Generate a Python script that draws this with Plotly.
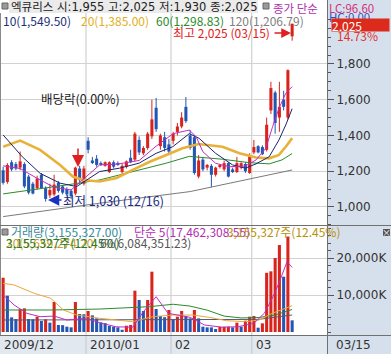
import plotly.graph_objects as go

W, H = 391, 354
def px(x): return x / W
def py(y): return 1 - y / H

# ---------------- data ----------------
idx = list(range(69))
opens  = [1205,1140,1250,1240,1220,1240,1170,1130,1105,1180,1105,1065,1070,1135,1115,1100,1090,1075,1215,1130,
          1370,1260,1270,1245,1230,1195,1250,1245,1195,1225,1275,1265,1375,1300,1330,1395,1555,1340,1390,1350,
          1370,1420,1450,1560,1400,1390,1170,1265,1220,1230,1180,1225,1210,1245,1210,1195,1220,1240,1190,
          1305,1340,1335,1320,1540,1640,1500,1600,1500,1955]
highs  = [1225,1245,1262,1252,1310,1250,1180,1140,1175,1190,1115,1130,1180,1145,1120,1110,1100,1225,1230,1230,
          1390,1280,1290,1255,1255,1255,1260,1255,1240,1260,1320,1420,1395,1340,1420,1600,1610,1410,1420,1380,
          1420,1470,1530,1615,1430,1400,1290,1275,1240,1240,1225,1240,1260,1250,1220,1280,1250,1250,1300,
          1375,1345,1345,1500,1700,1650,1700,1650,1770,2025]
lows   = [1125,1130,1200,1205,1205,1105,1070,1070,1095,1100,1030,1050,1060,1080,1070,1060,1045,1065,1130,1120,
          1300,1240,1225,1230,1225,1190,1215,1230,1185,1215,1245,1255,1290,1290,1320,1380,1420,1320,1310,1290,
          1350,1400,1440,1470,1320,1180,1160,1200,1205,1110,1170,1215,1200,1165,1190,1190,1210,1190,1185,
          1295,1300,1290,1310,1520,1410,1420,1540,1490,1930]
closes = [1135,1235,1210,1215,1255,1115,1080,1075,1160,1105,1045,1095,1125,1090,1080,1070,1060,1220,1150,1215,
          1320,1250,1235,1238,1250,1250,1225,1235,1230,1255,1250,1410,1305,1330,1410,1490,1435,1400,1330,1310,
          1410,1450,1500,1480,1330,1190,1260,1210,1235,1180,1220,1230,1245,1170,1195,1245,1245,1200,1290,
          1335,1305,1295,1460,1665,1470,1560,1560,1765,2025]
volume_k = [14670,9800,3960,3510,6130,6400,3510,3450,4140,2970,3430,2520,8110,1890,1850,1440,1260,8110,4860,4800,
            5680,4500,3690,2600,2400,1620,1440,1260,600,1700,1900,11170,8650,5680,8650,16300,6220,4300,4000,5950,
            3430,4140,5680,4320,3690,5950,3690,1440,1260,1250,810,1400,1420,1440,1260,2520,1440,3060,4140,
            4320,1170,2340,16000,16400,20000,23500,14950,25800,3155]

# moving averages (x position in candle units, value)
ma5_x  = [0,4,8,12,16,19.6,22.7,27,32,36,40,43.8,45.4,47,50,53.2,57,59.5,61.8,63.4,64.9,66.5,68]
ma5_v  = [1230,1215,1160,1110,1095,1170,1235,1240,1260,1340,1410,1430,1393,1309,1244,1225,1229,1263,1328,1449,1552,1636,1673]
ma10_x = [0,4.5,8.7,13.4,17.3,19.6,22.7,27.4,32,36,39.9,43.8,46.1,50,54,57,59.5,62.6,64.9,66.5,68]
ma10_v = [1403,1281,1188,1133,1114,1151,1198,1217,1245,1300,1337,1410,1384,1300,1235,1217,1241,1281,1375,1459,1549.5]
ma20_x = [0,4,8.7,13.4,16.4,18.8,22.7,26.7,30.5,34.5,38.4,42.2,46,51.6,55.6,59.5,62.6,64.9,66.5,68]
ma20_v = [1337,1371,1319,1235,1170,1151,1142,1162,1207,1253,1291,1328,1352,1337,1300,1277,1272,1291,1337,1385]
ma60_x = [0,7.1,14.9,22.7,30.5,38.4,43.8,51.6,57.8,62.6,65.6,68]
ma60_v = [1073,1095,1123,1151,1198,1245,1283,1267,1248,1241,1263,1298.83]
ma120_x = [0,22.7,44,68]
ma120_v = [946,1021,1086,1206.79]

vma5_x  = [0,2.6,5.6,8.7,12,15,19.6,22.7,26.6,30.5,33,36,38.8,44,47.4,51.5,55.3,59,61.5,63.5,64.9,66.8,68]
vma5_v  = [10000,7300,5050,4140,4300,3240,3700,2500,1400,1300,5490,9540,5050,3970,1890,1300,1430,2350,5140,9540,13250,19000,17462]
vma20_x = [0,2.6,7.3,11.2,14.2,17.3,22.7,30.5,35.2,40,44.6,48.5,52.5,57,60.2,63.3,68]
vma20_v = [13160,12700,10460,9110,5950,4590,3700,2790,4140,4590,4590,3970,3060,2790,3240,5050,7100]
vma60_x = [0,11.2,22.7,34.4,40,44,48,52,56,60,64,68]
vma60_v = [5950,5950,6200,6840,7500,7000,5900,4300,3800,3900,4600,6084]
vma120_x = [0,25,50,60,68]
vma120_v = [3240,3240,3300,3400,4600]

price_ticks = [1000,1200,1400,1600,1800]
vol_ticks = [10000,20000]
vol_tick_text = ["10,000K","20,000K"]
month_lines = [19.5,39.5,58.5]

RED = "#d9231d"
BLUE = "#2456b4"

# ---------------- figure ----------------
fig = go.Figure()

up = [c >= o for o, c in zip(opens, closes)]
body_base = [min(o, c) for o, c in zip(opens, closes)]
body_h = [max(abs(c - o), 4) for o, c in zip(opens, closes)]
body_col = [RED if u else BLUE for u in up]

for flag, col in ((True, RED), (False, BLUE)):
    wx, wy = [], []
    for i in idx:
        if up[i] == flag:
            wx += [i, i, None]
            wy += [lows[i], highs[i], None]
    fig.add_trace(go.Scatter(x=wx, y=wy, mode="lines", line=dict(color=col, width=1),
                             hoverinfo="skip", showlegend=False))

fig.add_trace(go.Bar(x=idx, y=body_h, base=body_base, marker=dict(color=body_col, line=dict(width=0)),
                     width=0.72, showlegend=False))

for xs, vs, col, w in ((ma120_x, ma120_v, "#7a7a7a", 1), (ma60_x, ma60_v, "#2b8a2b", 1),
                       (ma20_x, ma20_v, "#e8b13a", 2.6), (ma10_x, ma10_v, "#1c2470", 1),
                       (ma5_x, ma5_v, "#c12cc1", 1)):
    fig.add_trace(go.Scatter(x=xs, y=vs, mode="lines", line=dict(color=col, width=w),
                             showlegend=False, hoverinfo="skip"))

vol_col = [RED] + [RED if volume_k[i] >= volume_k[i - 1] else BLUE for i in range(1, len(volume_k))]
fig.add_trace(go.Bar(x=idx, y=volume_k, marker=dict(color=vol_col, line=dict(width=0)), width=0.72,
                     yaxis="y2", showlegend=False))
for xs, vs, col in ((vma120_x, vma120_v, "#555a70"), (vma60_x, vma60_v, "#2b8a2b"),
                    (vma20_x, vma20_v, "#e8a83a"), (vma5_x, vma5_v, "#c12cc1")):
    fig.add_trace(go.Scatter(x=xs, y=vs, mode="lines", line=dict(color=col, width=1),
                             yaxis="y2", showlegend=False, hoverinfo="skip"))

TICKFONT = dict(family="DejaVu Sans", size=12, color="#333333")
fig.update_layout(
    width=W, height=H, margin=dict(l=0, r=0, t=0, b=0),
    paper_bgcolor="white", plot_bgcolor="rgba(0,0,0,0)",
    barmode="overlay", showlegend=False,
    xaxis=dict(domain=[px(1), px(327)], range=[-0.5, 76.2], showgrid=False, zeroline=False,
               showticklabels=False, ticks="", anchor="y2"),
    yaxis=dict(domain=[py(225), py(13)], range=[899, 2085], side="right", anchor="x",
               tickvals=price_ticks, tickformat=",d", tickfont=TICKFONT,
               ticks="outside", ticklen=6, tickcolor="#555", showgrid=True, gridcolor="#d2d2d2",
               zeroline=False, showline=False,
               minor=dict(dtick=50, ticklen=3, tickcolor="#555", ticks="outside", showgrid=False)),
    yaxis2=dict(domain=[py(334), py(226)], range=[-540, 28650], side="right", anchor="x",
                tickvals=vol_ticks, ticktext=vol_tick_text, tickfont=TICKFONT,
                ticks="outside", ticklen=6, tickcolor="#555", showgrid=True, gridcolor="#d2d2d2",
                zeroline=False, showline=False,
                minor=dict(dtick=2000, ticklen=3, tickcolor="#555", ticks="outside", showgrid=False)),
)

shapes = []
shapes.append(dict(type="rect", xref="paper", yref="paper", x0=px(327), x1=1, y0=0, y1=1,
                   fillcolor="#d6e0ec", line=dict(width=0), layer="below"))
shapes.append(dict(type="rect", xref="paper", yref="paper", x0=0, x1=px(327), y0=0, y1=py(335),
                   fillcolor="#e2e8ef", line=dict(width=0), layer="below"))
shapes.append(dict(type="rect", xref="paper", yref="paper", x0=px(9), x1=px(258), y0=py(13), y1=1,
                   fillcolor="#ebebeb", line=dict(width=0), layer="below"))
for m in month_lines:
    shapes.append(dict(type="line", xref="x", yref="paper", x0=m, x1=m, y0=0, y1=py(13),
                       line=dict(color="#c6c6c6", width=1), layer="below"))
shapes.append(dict(type="line", xref="paper", yref="paper", x0=px(327.5), x1=px(327.5), y0=0, y1=1,
                   line=dict(color="#707070", width=1)))
shapes.append(dict(type="line", xref="paper", yref="paper", x0=px(0.5), x1=px(0.5), y0=py(335), y1=py(13),
                   line=dict(color="#8a8a8a", width=1)))
for yy in (225.5, 335.5):
    shapes.append(dict(type="line", xref="paper", yref="paper", x0=0, x1=1, y0=py(yy), y1=py(yy),
                       line=dict(color="#707070", width=1)))
# small legend icons
for (x0, y0) in ((2, 3), (263, 3), (2, 229)):
    shapes.append(dict(type="rect", xref="paper", yref="paper", x0=px(x0), x1=px(x0 + 6),
                       y0=py(y0 + 6), y1=py(y0), fillcolor="#9a9a9a", line=dict(color="#666", width=1)))
# close button
shapes.append(dict(type="rect", xref="paper", yref="paper", x0=px(383), x1=px(390), y0=py(236), y1=py(229),
                   fillcolor="#555555", line=dict(width=0)))
fig.update_layout(shapes=shapes)

FONT = "Noto Sans CJK KR, DejaVu Sans"
ann = []
def txt(x, y, s, color, size=12, xanchor="left", bg=None, family=FONT, **kw):
    d = dict(xref="paper", yref="paper", x=px(x), y=py(y), text=s, showarrow=False,
             xanchor=xanchor, yanchor="middle", font=dict(family=family, size=size, color=color),
             borderpad=0)
    if bg:
        d["bgcolor"] = bg
    d.update(kw)
    ann.append(d)

txt(10, 7, "엑큐리스 시:1,955 고:2,025 저:1,930 종:2,025", "#222222", size=11.5,
    family="DejaVu Sans, Noto Sans CJK KR")
txt(272, 8.5, "종가 단순", "#b02fb0", size=11.5)
txt(328, 8.5, "LC:96.60", "#d2307c", size=11.5)
txt(328, 17, "HC:0.00", "#3050c0", size=11.5)
txt(331, 24.5, "2,025", "white", bg="#dc2a1c", width=57, height=12, align="left")
txt(336, 36, "14.73%", "#e03030")

txt(2, 20, "10(1,549.50)", "#1c2f75")
txt(80, 20, "20(1,385.00)", "#e0b020")
txt(155, 20, "60(1,298.83)", "#2b8a2b")
txt(228, 20, "120(1,206.79)", "#808080")

txt(172, 33, "최고 2,025 (03/15)", "#e02020")
txt(40, 99, "배당락(0.00%)", "#222222", size=12.5)
txt(62, 200, "최저 1,030 (12/16)", "#1a2a80", size=12.5)

txt(10, 232, "거래량(3,155,327.00)", "#3a8a9a")
txt(133, 232, "단순 5(17,462,308.55)", "#b02fb0")
txt(226, 232, "3,155,327주(12.45%)", "#b8900a")
txt(5, 243, "20(5,659,274.20)", "#c8a020")
txt(5, 243, "3,155,327주(12.45%)", "#2b7a2b")
txt(99, 243, "60(6,084,351.23)", "#555555")
txt(386.5, 232.5, "×", "white", size=9, xanchor="center")

txt(3, 345, "2009/12", "#333333", family="DejaVu Sans")
txt(89, 345, "2010/01", "#333333", family="DejaVu Sans")
txt(174, 345, "02", "#333333", family="DejaVu Sans")
txt(255, 345, "03", "#333333", family="DejaVu Sans")
txt(335, 345, "03/15", "#333333", family="DejaVu Sans")

# arrows
ann.append(dict(xref="paper", yref="paper", x=px(291), y=py(33), ax=-18, ay=0, text="", showarrow=True,
                arrowhead=2, arrowsize=1.3, arrowwidth=1.5, arrowcolor="#e02020"))
ann.append(dict(xref="paper", yref="paper", x=px(78), y=py(167), ax=0, ay=-20, text="", showarrow=True,
                arrowhead=2, arrowsize=1.6, arrowwidth=1.5, arrowcolor="#e02020"))
ann.append(dict(xref="paper", yref="paper", x=px(48), y=py(200), ax=15, ay=0, text="", showarrow=True,
                arrowhead=2, arrowsize=1.5, arrowwidth=1.5, arrowcolor="#1a30c0"))
fig.update_layout(annotations=ann)

fig.write_html("out.html")
